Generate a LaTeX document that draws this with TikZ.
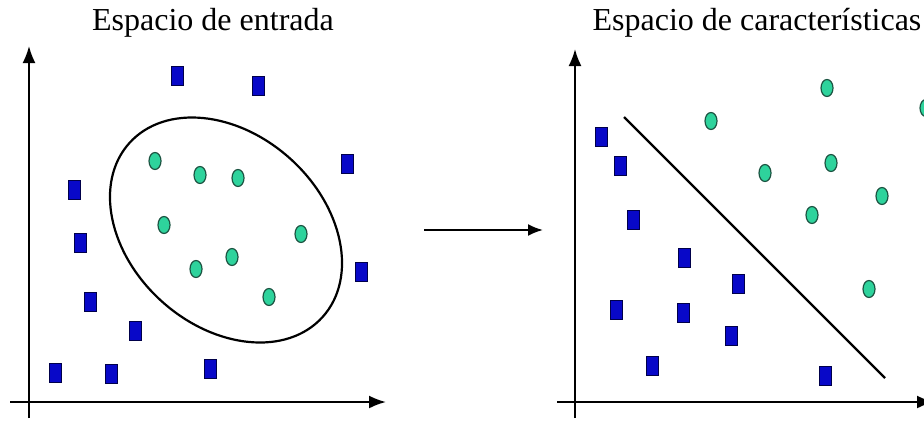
\documentclass[tikz,border=0pt]{standalone}
\usepackage{fontspec}
\setmainfont{Liberation Serif}
\usepackage{tikz}
\usetikzlibrary{arrows.meta,shapes.geometric}
\definecolor{azul}{HTML}{0808C8}
\definecolor{azulborde}{HTML}{00004A}
\definecolor{verde}{HTML}{2ED39C}
\definecolor{verdeborde}{HTML}{1C5442}

\tikzset{
  cuadro/.style={rectangle, draw=azulborde, fill=azul, line width=0.8pt,
    minimum width=12pt, minimum height=19pt, inner sep=0pt},
  punto/.style={ellipse, draw=verdeborde, fill=verde, line width=1.2pt,
    minimum width=12pt, minimum height=17pt, inner sep=0pt},
  eje/.style={line width=2pt, -{Latex[length=17pt,width=13pt]}},
  titulo/.style={font=\fontsize{32}{38}\selectfont, anchor=base}
}

\begin{document}
\begin{tikzpicture}[x=1pt, y=-1pt]
        \useasboundingbox (0,0) rectangle (924,421);
        % espacio de entrada
        \node[titulo] (tent) at (213,30) {Espacio de entrada};
        \coordinate (lx0) at (10,402);  \coordinate (lx1) at (386,402);
        \coordinate (ly0) at (29,418);  \coordinate (ly1) at (29,46);
        \draw[eje] (lx0) -- (lx1);
        \draw[eje] (ly0) -- (ly1);
        \node[ellipse, draw, line width=2.2pt, minimum width=260pt,
              minimum height=192pt, rotate=-42] (frontera) at (226,230) {};
        \foreach \x/\y [count=\i] in {177/76, 258/86, 347/164, 74/190, 80/243,
            361/272, 90/302, 135/331, 55/373, 111/374, 210/369}
          \node[cuadro] (ec\i) at (\x,\y) {};
        \foreach \x/\y [count=\i] in {155/161, 200/175, 238/178, 164/225,
            301/234, 232/257, 196/269, 269/297}
          \node[punto] (ep\i) at (\x,\y) {};
        % flecha entre espacios
        \coordinate (m0) at (424,230);  \coordinate (m1) at (543,230);
        \draw[line width=2pt, -{Latex[length=15pt,width=12pt]}] (m0) -- (m1);
        % espacio de caracteristicas
        \node[titulo] (tcar) at (757,30) {Espacio de características};
        \coordinate (rx0) at (557,402); \coordinate (rx1) at (934,402);
        \coordinate (ry0) at (575,418); \coordinate (ry1) at (575,49);
        \draw[eje] (rx0) -- (rx1);
        \draw[eje] (ry0) -- (ry1);
        \coordinate (h0) at (624,117);  \coordinate (h1) at (885,378);
        \draw[line width=2.4pt] (h0) -- (h1);
        \foreach \x/\y [count=\i] in {601/137, 620/166, 633/220, 684/258,
            738/284, 616/310, 683/313, 731/336, 652/366, 825/376}
          \node[cuadro] (cc\i) at (\x,\y) {};
        \foreach \x/\y [count=\i] in {827/88, 926/108, 711/121, 831/163,
            765/173, 882/196, 812/215, 869/289}
          \node[punto] (cp\i) at (\x,\y) {};
    \end{tikzpicture}
\end{document}
